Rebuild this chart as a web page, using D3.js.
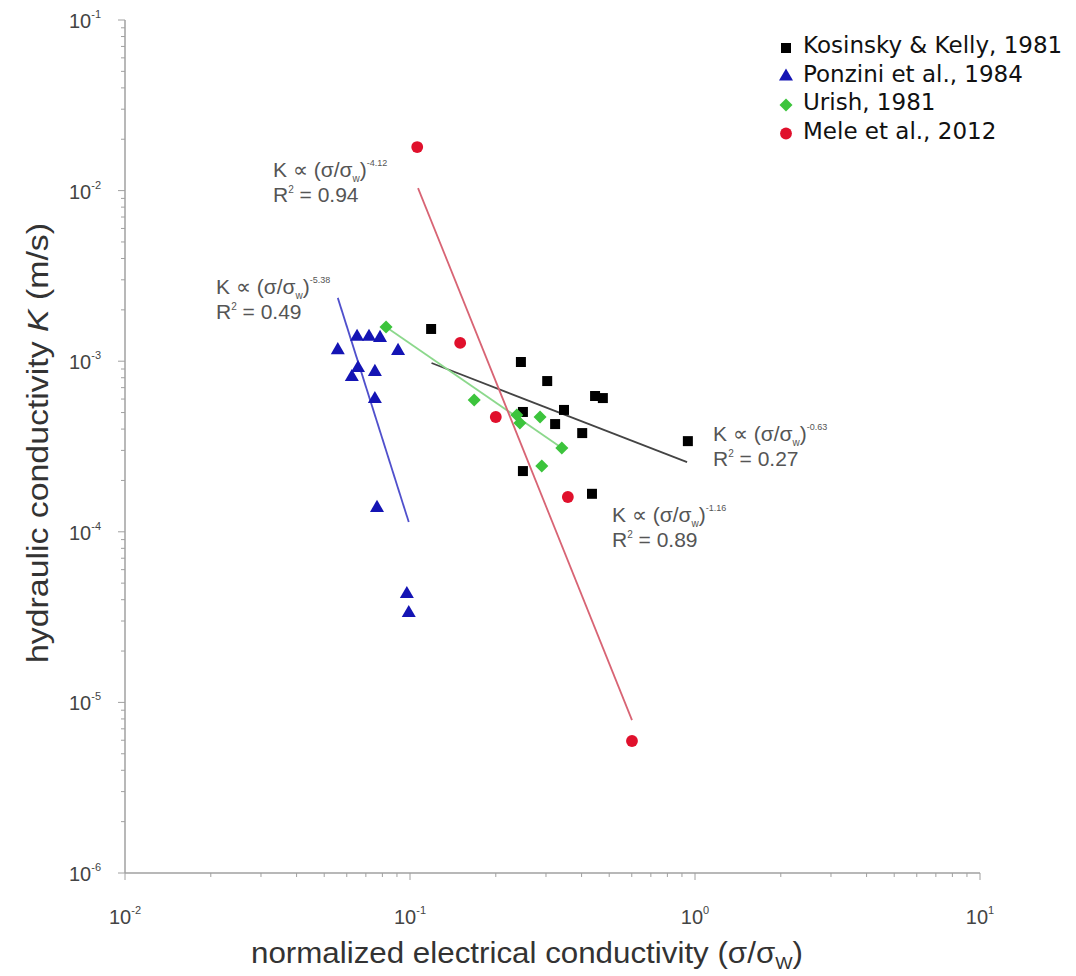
<!DOCTYPE html>
<html><head><meta charset="utf-8">
<script src="https://cdn.jsdelivr.net/npm/d3@7"></script>
<style>body{margin:0;background:#fff}svg{display:block}</style>
</head><body>
<script>
// ---- data ----
const kosinskyX = [0.1186,0.245,0.303,0.446,0.475,0.249,0.347,0.323,0.402,0.249,0.435,0.944];
const kosinskyK = [1.545e-3,9.89e-4,7.65e-4,6.25e-4,6.08e-4,5.04e-4,5.18e-4,4.28e-4,3.79e-4,2.27e-4,1.67e-4,3.40e-4];
const ponziniX = [0.0558,0.0652,0.0718,0.0785,0.0908,0.0657,0.0625,0.0753,0.0753,0.0766,0.0975,0.099];
const ponziniK = [1.16e-3,1.39e-3,1.39e-3,1.37e-3,1.15e-3,9.12e-4,8.08e-4,8.65e-4,6.0e-4,1.38e-4,4.32e-5,3.34e-5];
const urishX = [0.0824,0.168,0.237,0.243,0.286,0.341,0.290];
const urishK = [1.585e-3,5.93e-4,4.84e-4,4.34e-4,4.71e-4,3.10e-4,2.43e-4];
const meleX = [0.106,0.150,0.200,0.358,0.601];
const meleK = [1.80e-2,1.28e-3,4.71e-4,1.60e-4,5.94e-6];
// fit line endpoints [x0,x1], [K0,K1]
const fitKosX = [0.119,0.938], fitKosK = [9.76e-4,2.56e-4];
const fitPonX = [0.0558,0.099], fitPonK = [2.35e-3,1.14e-4];
const fitUriX = [0.0824,0.341], fitUriK = [1.585e-3,3.10e-4];
const fitMelX = [0.1067,0.601], fitMelK = [1.035e-2,7.88e-6];
const legendLabels = ["Kosinsky & Kelly, 1981","Ponzini et al., 1984","Urish, 1981","Mele et al., 2012"];
const xTickExp = [-2,-1,0,1];
const yTickExp = [-1,-2,-3,-4,-5,-6];
const fitExponents = ["-4.12","-5.38","-0.63","-1.16"];
const fitR2 = ["0.94","0.49","0.27","0.89"];

const W=1076,H=976;
const svg=d3.select("body").append("svg").attr("width",W).attr("height",H);
const x=d3.scaleLog().domain([0.01,10]).range([125,980]);
const y=d3.scaleLog().domain([1e-6,0.1]).range([873,20]);
const axisColor="#a0a0a0";
const sans="Liberation Sans, Arial, sans-serif";

// axes lines
const g=svg.append("g");
g.append("line").attr("x1",x(0.01)).attr("x2",x(0.01)).attr("y1",y(0.1)).attr("y2",y(1e-6)).attr("stroke",axisColor).attr("stroke-width",1.5);
g.append("line").attr("x1",x(0.01)).attr("x2",x(10)).attr("y1",y(1e-6)).attr("y2",y(1e-6)).attr("stroke",axisColor).attr("stroke-width",1.5);
// ticks
for(let e=-6;e<-1;e++){for(let m=1;m<10;m++){const v=m*Math.pow(10,e);
 g.append("line").attr("x1",x(0.01)).attr("x2",x(0.01)-(m===1?7:4)).attr("y1",y(v)).attr("y2",y(v)).attr("stroke",axisColor).attr("stroke-width",1);}}
g.append("line").attr("x1",x(0.01)).attr("x2",x(0.01)-7).attr("y1",y(0.1)).attr("y2",y(0.1)).attr("stroke",axisColor);
for(let e=-2;e<1;e++){for(let m=1;m<10;m++){const v=m*Math.pow(10,e);
 g.append("line").attr("x1",x(v)).attr("x2",x(v)).attr("y1",y(1e-6)).attr("y2",y(1e-6)+(m===1?7:4)).attr("stroke",axisColor).attr("stroke-width",1);}}
g.append("line").attr("x1",x(10)).attr("x2",x(10)).attr("y1",y(1e-6)).attr("y2",y(1e-6)+7).attr("stroke",axisColor);

// tick labels
yTickExp.forEach(e=>{const t=g.append("text").attr("x",101).attr("y",y(Math.pow(10,e))+8).attr("text-anchor","end").attr("font-family",sans).attr("font-size",20).attr("fill","#444");
 t.append("tspan").text("10");t.append("tspan").attr("dy",-10).attr("font-size",11).text(e);});
xTickExp.forEach(e=>{const t=g.append("text").attr("x",x(Math.pow(10,e))).attr("y",924).attr("text-anchor","middle").attr("font-family",sans).attr("font-size",20).attr("fill","#444");
 t.append("tspan").text("10");t.append("tspan").attr("dy",-10).attr("font-size",11).text(e);});

// axis titles
const yt=svg.append("text").attr("transform","translate(48,443) rotate(-90)").attr("text-anchor","middle").attr("font-family",sans).attr("font-size",29).attr("fill","#333")
 .attr("textLength",440).attr("lengthAdjust","spacingAndGlyphs");
yt.append("tspan").text("hydraulic conductivity ");yt.append("tspan").attr("font-style","italic").text("K");yt.append("tspan").text(" (m/s)");
const xt=svg.append("text").attr("x",527).attr("y",963).attr("text-anchor","middle").attr("font-family",sans).attr("font-size",29).attr("fill","#333")
 .attr("textLength",552).attr("lengthAdjust","spacingAndGlyphs");
xt.append("tspan").text("normalized electrical conductivity (σ/σ");xt.append("tspan").attr("font-size",17).attr("dy",6).text("W");xt.append("tspan").attr("dy",-6).text(")");

// fit lines
const fits=[[fitKosX,fitKosK,"#444"],[fitPonX,fitPonK,"#5050cc"],[fitUriX,fitUriK,"#8cd88c"],[fitMelX,fitMelK,"#d86474"]];
fits.forEach(([fx,fk,c])=>{svg.append("line").attr("x1",x(fx[0])).attr("y1",y(fk[0])).attr("x2",x(fx[1])).attr("y2",y(fk[1])).attr("stroke",c).attr("stroke-width",1.8);});

// markers
const cBlack="#000",cBlue="#1414b4",cGreen="#3cc43c",cRed="#e0102c";
function draw(xs,ks,type,size,color,rot){
 svg.append("g").selectAll("path").data(xs.map((v,i)=>[v,ks[i]])).join("path")
  .attr("d",d3.symbol().type(type).size(size)).attr("transform",d=>`translate(${x(d[0])},${y(d[1])}) rotate(${rot||0})`).attr("fill",color);}
draw(kosinskyX,kosinskyK,d3.symbolSquare,100,cBlack);
draw(ponziniX,ponziniK,d3.symbolTriangle,85,cBlue);
draw(urishX,urishK,d3.symbolSquare,85,cGreen,45);
draw(meleX,meleK,d3.symbolCircle,110,cRed);

// annotations
const ann=[[273,177,fitExponents[0],fitR2[0]],[216,294,fitExponents[1],fitR2[1]],[713,441,fitExponents[2],fitR2[2]],[612,522,fitExponents[3],fitR2[3]]];
ann.forEach(([ax,ay,ex,r2])=>{
 const t=svg.append("text").attr("x",ax).attr("y",ay).attr("font-family",sans).attr("font-size",21).attr("fill","#555");
 t.append("tspan").text("K ∝ (σ/σ");t.append("tspan").attr("font-size",10).attr("dy",5).text("w");t.append("tspan").attr("dy",-5).text(")");
 t.append("tspan").attr("font-size",9).attr("dy",-11).text(ex);
 const r=svg.append("text").attr("x",ax).attr("y",ay+25).attr("font-family",sans).attr("font-size",21).attr("fill","#555");
 r.append("tspan").text("R");r.append("tspan").attr("font-size",10).attr("dy",-9).text("2");r.append("tspan").attr("dy",9).text(" = "+r2);
});

// legend
const legTypes=[d3.symbolSquare,d3.symbolTriangle,d3.symbolSquare,d3.symbolCircle];
const legRot=[0,0,45,0];
const legCols=[cBlack,cBlue,cGreen,cRed];
const legSizes=[100,85,85,110];
legendLabels.forEach((l,i)=>{
 const yy=53+i*28.5;
 svg.append("path").attr("d",d3.symbol().type(legTypes[i]).size(legSizes[i])).attr("transform",`translate(786,${yy-5}) rotate(${legRot[i]})`).attr("fill",legCols[i]);
 svg.append("text").attr("x",803).attr("y",yy).attr("font-family","DejaVu Sans, Verdana, sans-serif").attr("font-size",23).attr("fill","#111").text(l);
});
</script>
</body></html>
